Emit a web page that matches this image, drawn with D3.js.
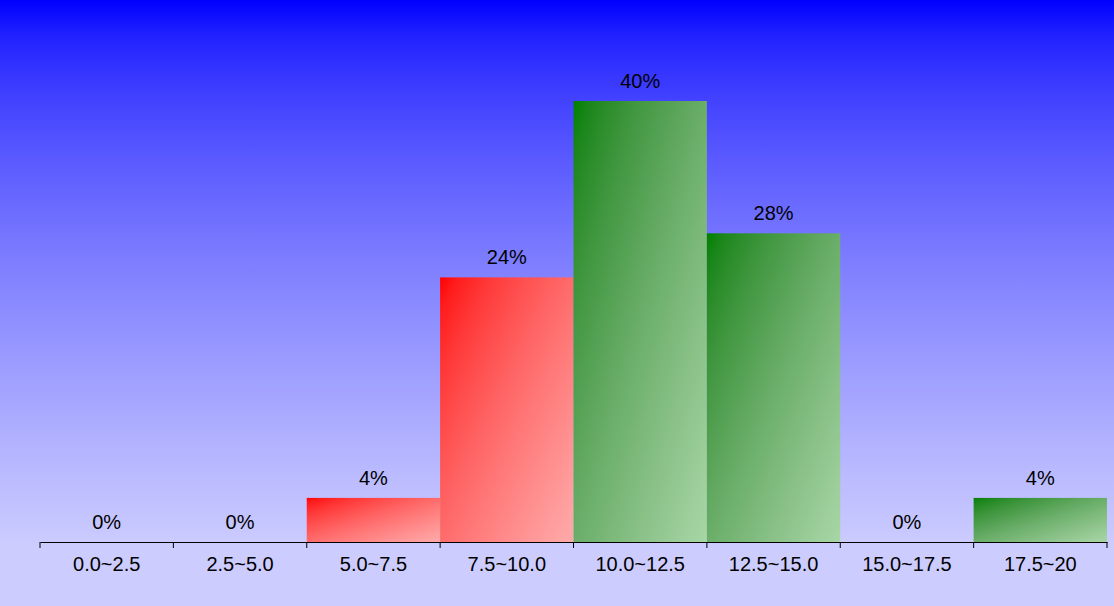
<!DOCTYPE html>
<html><head><meta charset="utf-8">
<script src="https://cdn.jsdelivr.net/npm/d3@7"></script>
<style>html,body{margin:0;padding:0;}svg{display:block;}</style>
</head><body>
<svg id="chart" width="1114" height="606"></svg>
<script>
const categories = ["0.0~2.5","2.5~5.0","5.0~7.5","7.5~10.0","10.0~12.5","12.5~15.0","15.0~17.5","17.5~20"];
const values = [0, 0, 4, 24, 40, 28, 0, 4];
const colorGroup = ["green","green","red","red","green","green","green","green"];

const W = 1114, H = 606;
const svg = d3.select("#chart");
const defs = svg.append("defs");

function addStops(g, c0, c1, endOffset) {
  const interp = d3.interpolateRgb.gamma(1.5)(c0, c1);
  const n = 16;
  for (let i = 0; i <= n; i++) {
    const t = i / n;
    g.append("stop").attr("offset", (t * endOffset * 100) + "%").attr("stop-color", interp(t));
  }
  if (endOffset < 1) g.append("stop").attr("offset", "100%").attr("stop-color", c1);
}

const bg = defs.append("linearGradient").attr("id","bg").attr("x1",0).attr("y1",0).attr("x2",0).attr("y2",1);
addStops(bg, "#0000ff", "#ccccff", 0.9);

const grads = {red:["#ff0000","#ffaaaa"], green:["#008000","#a8d6a6"]};
Object.entries(grads).forEach(([k,[c0,c1]])=>{
  const g = defs.append("linearGradient").attr("id","g-"+k).attr("x1",0).attr("y1",0).attr("x2",1).attr("y2",1);
  addStops(g, c0, c1, 1);
});

svg.append("rect").attr("width",W).attr("height",H).attr("fill","url(#bg)");

const x = d3.scaleBand().domain(categories).range([40,1107]).padding(0);
const y = d3.scaleLinear().domain([0,40]).range([542,101]);

svg.append("g").selectAll("rect").data(values).join("rect")
  .attr("x",(d,i)=>x(categories[i]))
  .attr("y",d=>y(d))
  .attr("width",x.bandwidth())
  .attr("height",d=>y(0)-y(d))
  .attr("fill",(d,i)=>"url(#g-"+colorGroup[i]+")");

svg.append("g").selectAll("text").data(values).join("text")
  .attr("x",(d,i)=>x(categories[i])+x.bandwidth()/2)
  .attr("y",d=>y(d)-13)
  .attr("text-anchor","middle")
  .attr("font-family","Liberation Sans, Arial, sans-serif")
  .attr("font-size",20)
  .attr("fill","#000")
  .text(d=>d+"%");

const axis = svg.append("g").attr("transform","translate(0,542)")
  .call(d3.axisBottom(x).tickSize(0).tickSizeOuter(0));
axis.select(".domain").attr("stroke","#000");
axis.selectAll(".tick text").attr("font-family","Liberation Sans, Arial, sans-serif")
  .attr("font-size",20).attr("fill","#000").attr("y",29).attr("dy",0);
const bounds = categories.map(c=>x(c)).concat([x(categories[categories.length-1])+x.bandwidth()]);
axis.append("g").selectAll("line").data(bounds).join("line")
  .attr("x1",d=>d).attr("x2",d=>d).attr("y1",0).attr("y2",6).attr("stroke","#000");
</script>
</body></html>
